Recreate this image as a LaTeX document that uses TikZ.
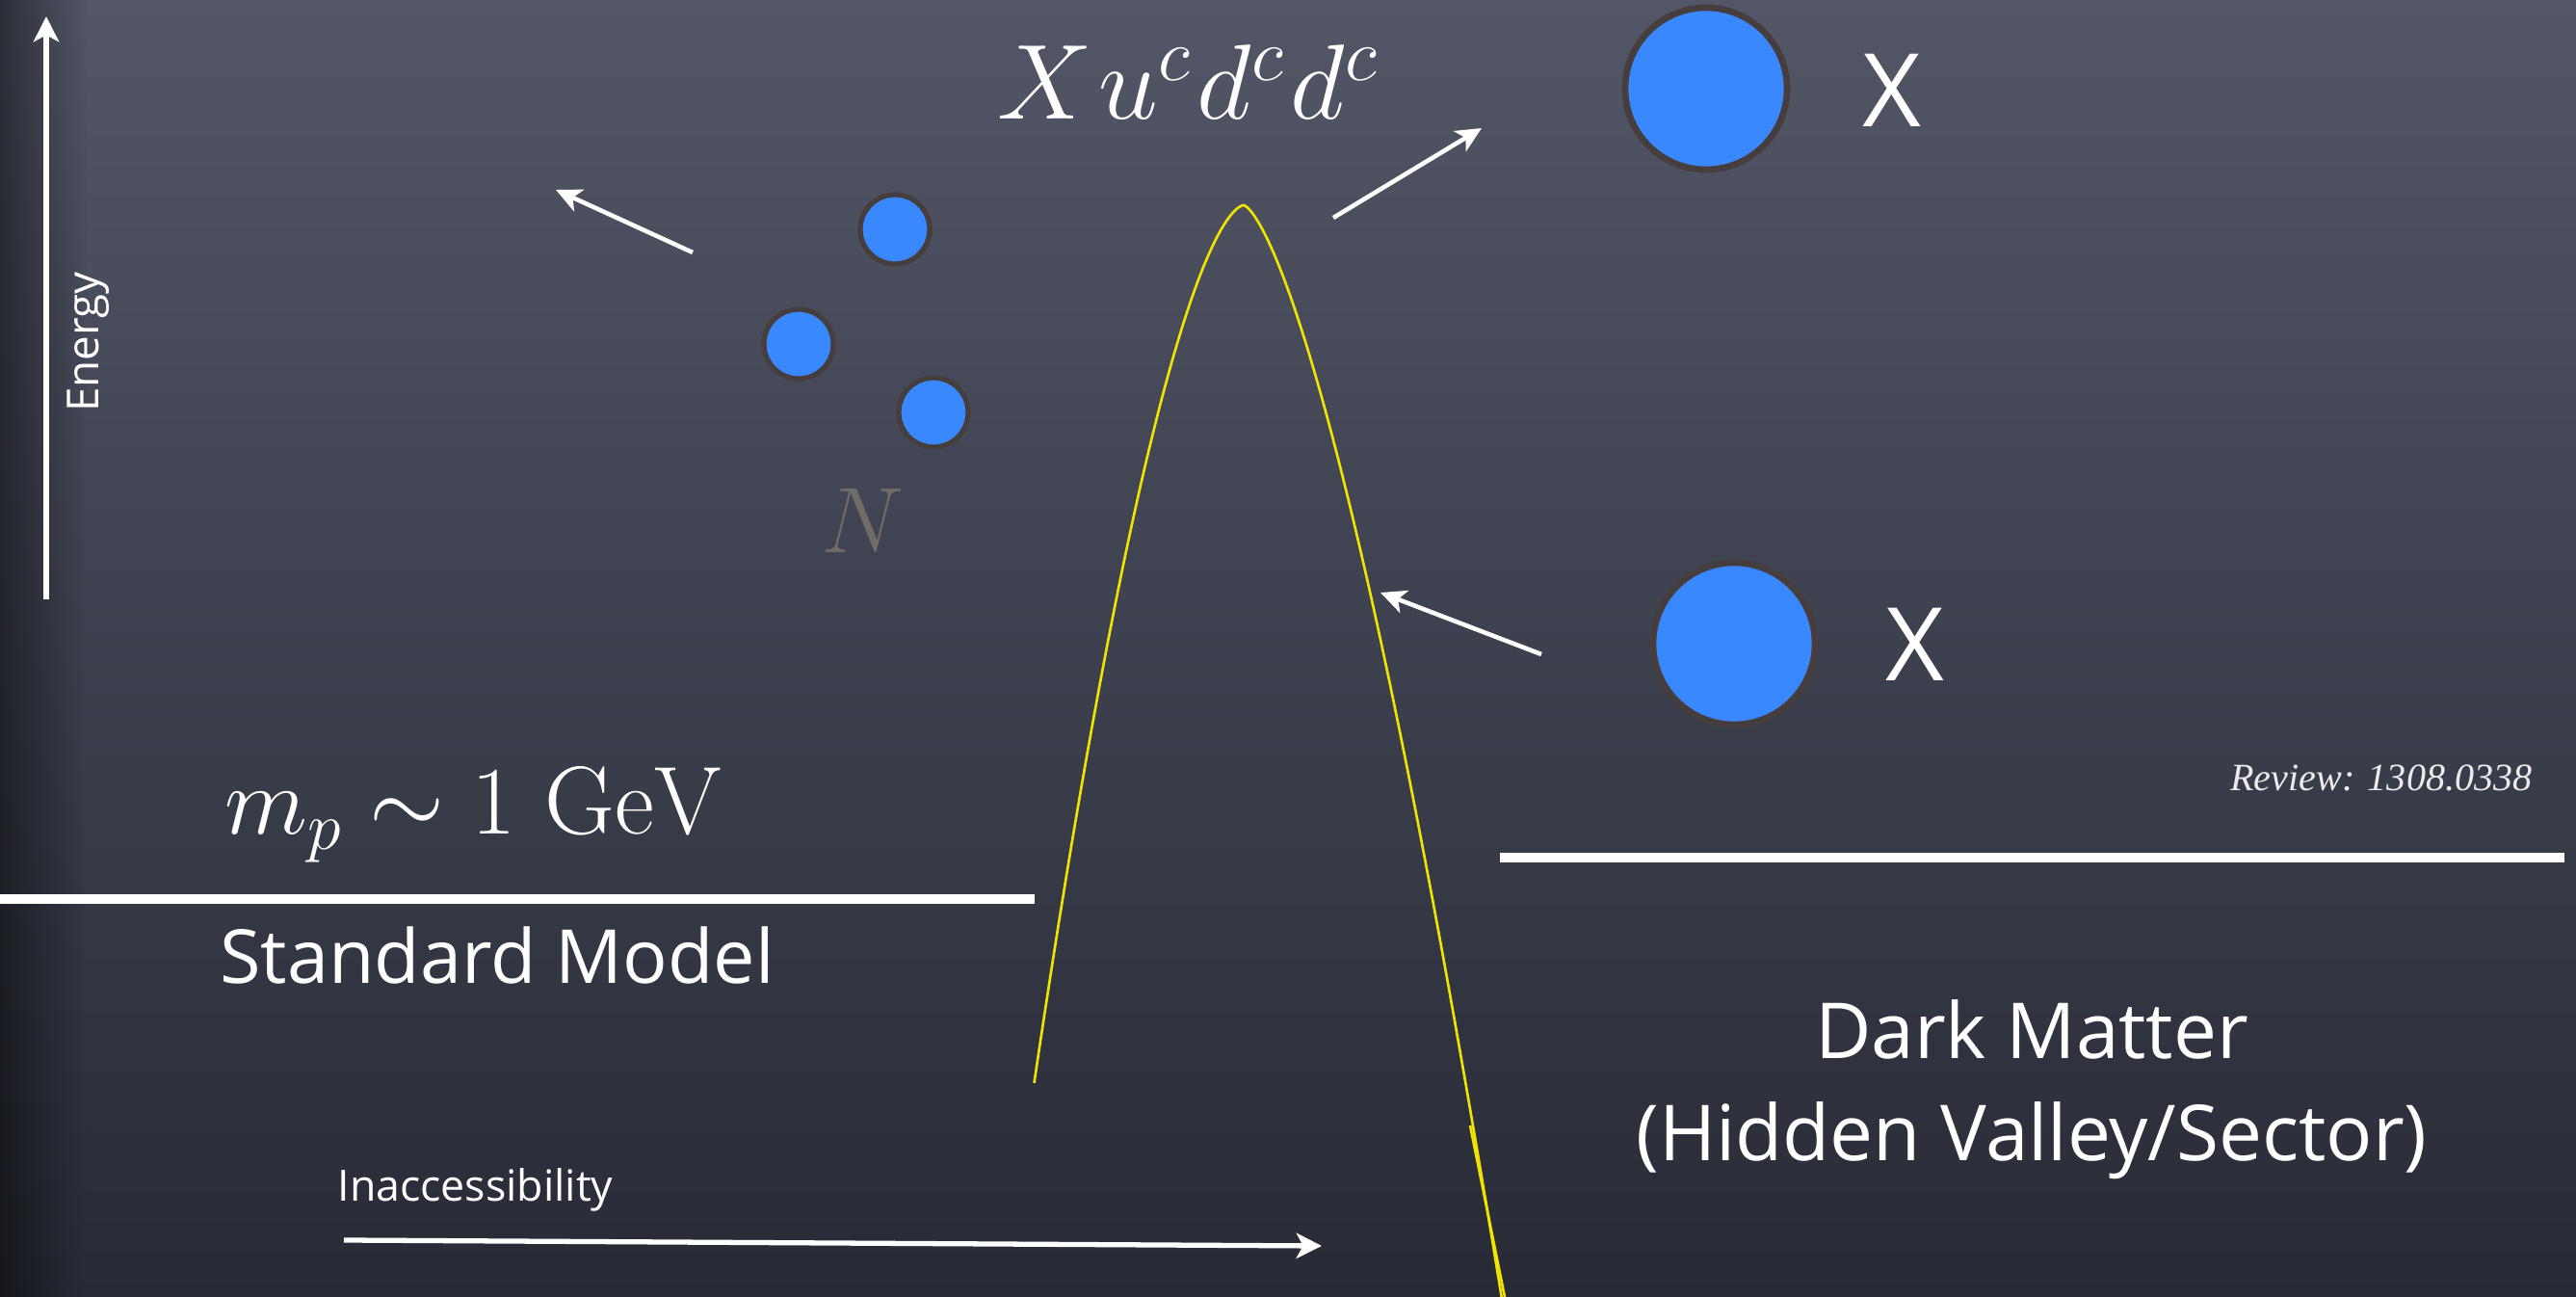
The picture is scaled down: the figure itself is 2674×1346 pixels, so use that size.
\documentclass[tikz,border=0pt]{standalone}
\usepackage{fix-cm}
\usepackage{fontspec}
\newfontfamily\chalk{Open Sans}
\newfontfamily\revfont{Liberation Serif}
\usetikzlibrary{arrows.meta,fadings}
\definecolor{bgtop}{RGB}{82,86,102}
\definecolor{bgmid}{RGB}{68,72,87}
\definecolor{bgbot}{RGB}{40,43,54}
\definecolor{ball}{RGB}{58,136,254}
\definecolor{ballrim}{RGB}{70,62,62}
\definecolor{curvecol}{RGB}{240,228,0}
\definecolor{ngray}{RGB}{110,108,100}
\begin{document}
\begin{tikzpicture}[x=0.01cm,y=-0.01cm,
  chalktext/.style={text=white,inner sep=0pt},
  wline/.style={white,line width=3pt},
  warrow/.style={white,line width=1.3pt,-{Stealth[length=7.5pt,width=7pt,inset=2pt]}},
  smallball/.style={circle,fill=ball,draw=ballrim,line width=1.5pt,inner sep=0pt,minimum size=0.72cm},
  bigball/.style={circle,fill=ball,draw=ballrim,line width=1.9pt,inner sep=0pt,minimum size=1.68cm},
  barrier/.style={curvecol,line width=0.75pt}
]
% background
\useasboundingbox (0,0) rectangle (2674,1346);
\shade[top color=bgtop, middle color=bgmid, bottom color=bgbot] (0,0) rectangle (2674,1346);
\fill[black, opacity=0.45, path fading=east] (0,0) rectangle (90,1346);

% energy axis
\coordinate (ebot) at (48,622);
\coordinate (etop) at (48,17);
\draw[white,line width=1.6pt,-{Stealth[length=7.5pt,width=7.5pt,inset=2pt]}] (ebot) -- (etop);
\node[chalktext,font=\chalk\fontsize{13}{15}\selectfont,rotate=90,anchor=base] (energy) at (102,355) {Energy};

% horizontal lines
\coordinate (sml) at (0,933);
\coordinate (smr) at (1074,933);
\draw[wline] (sml) -- (smr);
\coordinate (dml) at (1557,890);
\coordinate (dmr) at (2662,890);
\draw[wline] (dml) -- (dmr);

% texts
\node[text=white,inner sep=0pt,anchor=base west,font=\fontsize{31.5}{38}\selectfont] (xudd) at (1035,124) {$X\mkern1mu u^c\mkern1mu d^c\mkern1mu d^c$};
\node[text=white,inner sep=0pt,anchor=base west,font=\fontsize{28.5}{34}\selectfont] (mp) at (233,866) {$m_p \sim 1\ \mathrm{GeV}$};
\node[text=ngray,inner sep=0pt,anchor=base,font=\fontsize{27.5}{33}\selectfont] (nlab) at (895,574) {$N$};
\node[chalktext,anchor=base,font=\chalk\fontsize{22}{26}\selectfont] (sm) at (516,1021) {Standard Model};
\node[chalktext,anchor=base,font=\chalk\fontsize{22.8}{27}\selectfont] (dm1) at (2109,1098) {Dark Matter};
\node[chalktext,anchor=base,font=\chalk\fontsize{22.8}{27}\selectfont] (dm2) at (2109,1205) {(Hidden Valley/Sector)};
\node[chalktext,anchor=base west,font=\chalk\fontsize{12.7}{15}\selectfont] (inacc) at (350,1246) {Inaccessibility};
\node[chalktext,anchor=base,font=\chalk\fontsize{30}{36}\selectfont] (x1) at (1964,132) {X};
\node[chalktext,anchor=base,font=\chalk\fontsize{30}{36}\selectfont] (x2) at (1988,707) {X};
\node[text=white!92!black,inner sep=0pt,anchor=base east,font=\revfont\itshape\fontsize{11.4}{14}\selectfont] (rev) at (2629,821) {Review: 1308.0338};

% balls
\node[smallball] (s1) at (929,238) {};
\node[smallball] (s2) at (829,357) {};
\node[smallball] (s3) at (969,428) {};
\node[bigball] (b1) at (1771,92) {};
\node[bigball] (b2) at (1800,668) {};

% arrows
\coordinate (ia) at (357,1287);
\coordinate (ib) at (1372,1293);
\draw[white,line width=1.5pt,-{Stealth[length=7.5pt,width=7.5pt,inset=2pt]}] (ia) -- (ib);
\coordinate (ula) at (719,262);
\coordinate (ulb) at (577,197);
\draw[warrow] (ula) -- (ulb);
\coordinate (ura) at (1384,226);
\coordinate (urb) at (1538,133);
\draw[warrow] (ura) -- (urb);
\coordinate (mida) at (1600,679);
\coordinate (midb) at (1433,615);
\draw[warrow] (mida) -- (midb);

% barrier curve
\coordinate (peak) at (1291,213);
\draw[barrier] plot[domain=30.18:0.3, samples=80, variable=\t] ({1291-3.16*(\t)^1.242},{213+(\t)*(\t)})
  -- (peak)
  -- plot[domain=0.3:33.66, samples=80, variable=\t] ({1291+2.12*(\t)^1.376},{213+(\t)*(\t)});
\coordinate (dbla) at (1526,1168);
\coordinate (dblb) at (1562,1346);
\draw[barrier] (dbla) -- (dblb);
\end{tikzpicture}
\end{document}
